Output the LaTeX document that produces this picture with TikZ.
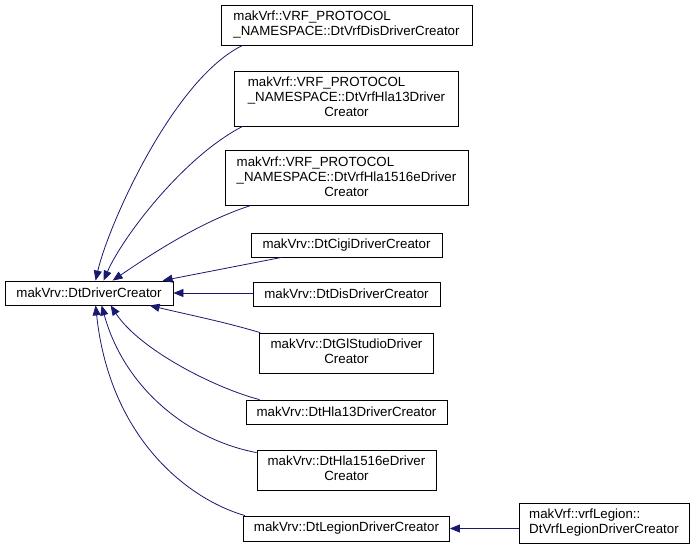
\documentclass[tikz,border=0pt]{standalone}
\usepackage{fontspec}
\setmainfont{Liberation Sans}
\usetikzlibrary{arrows.meta}
\definecolor{edgecol}{HTML}{191970}
\begin{document}
\begin{tikzpicture}[x=1pt,y=-1pt,
  box/.style={draw=black, line width=0.8pt, fill=white, inner sep=0pt,
    font=\fontsize{13.3}{15}\selectfont},
  edge/.style={draw=edgecol, line width=0.8pt,
    {Triangle[length=10pt,width=8pt,fill=edgecol]}-}]
\useasboundingbox (0,0) rectangle (696,555);
\fill[white] (0,0) rectangle (696,555);

\node[box, minimum width=168pt, minimum height=24pt] (main) at (89,293) {makVrv::DtDriverCreator};

\node[box, minimum width=251pt, minimum height=40pt] (vdis) at (346.5,25)
  {\begin{tabular}{@{}l@{}}makVrf::VRF\_PROTOCOL\\\_NAMESPACE::DtVrfDisDriverCreator\end{tabular}};
\node[box, minimum width=224pt, minimum height=55pt] (vhla) at (346.5,98.5)
  {\begin{tabular}{@{}l@{}}makVrf::VRF\_PROTOCOL\\\_NAMESPACE::DtVrfHla13Driver\\\multicolumn{1}{@{}c@{}}{Creator}\end{tabular}};
\node[box, minimum width=243pt, minimum height=55pt] (vhlae) at (346.5,178)
  {\begin{tabular}{@{}l@{}}makVrf::VRF\_PROTOCOL\\\_NAMESPACE::DtVrfHla1516eDriver\\\multicolumn{1}{@{}c@{}}{Creator}\end{tabular}};
\node[box, minimum width=191pt, minimum height=24pt] (cigi) at (346.5,245) {makVrv::DtCigiDriverCreator};
\node[box, minimum width=187pt, minimum height=24pt] (dis) at (346.5,294) {makVrv::DtDisDriverCreator};
\node[box, minimum width=174pt, minimum height=40pt] (gls) at (346.5,353)
  {\begin{tabular}{@{}c@{}}makVrv::DtGlStudioDriver\\Creator\end{tabular}};
\node[box, minimum width=201pt, minimum height=24pt] (hla) at (346.5,412) {makVrv::DtHla13DriverCreator};
\node[box, minimum width=179pt, minimum height=40pt] (hlae) at (346.5,470)
  {\begin{tabular}{@{}c@{}}makVrv::DtHla1516eDriver\\Creator\end{tabular}};
\node[box, minimum width=206pt, minimum height=25pt] (leg) at (346.5,528.5) {makVrv::DtLegionDriverCreator};
\node[box, minimum width=170pt, minimum height=40pt] (lvrf) at (604,523)
  {\begin{tabular}{@{}l@{}}makVrf::vrfLegion::\\DtVrfLegionDriverCreator\end{tabular}};

\draw[edge] ([xshift=91pt]main.north west) .. controls (108,226) and (173,79) .. ([xshift=22pt]vdis.south west);
\draw[edge] ([xshift=99pt]main.north west) .. controls (122,238) and (183,157) .. ([xshift=8.5pt]vhla.south west);
\draw[edge] ([xshift=108pt]main.north west) .. controls (150,255) and (200,222) .. ([xshift=25pt]vhlae.south west);
\draw[edge] ([xshift=158pt]main.north west) -- ([xshift=31pt]cigi.south west);
\draw[edge] (main.east) -- (main.east -| dis.west);
\draw[edge] ([xshift=145pt]main.south west) .. controls (185,314) and (225,322) .. ([xshift=1pt]gls.north west);
\draw[edge] ([xshift=106pt]main.south west) .. controls (140,350) and (215,388) .. ([xshift=14pt]hla.north west);
\draw[edge] ([xshift=97pt]main.south west) .. controls (125,390) and (190,440) .. ([yshift=-3pt]hlae.north west);
\draw[edge] ([xshift=91pt]main.south west) .. controls (110,440) and (190,500) .. ([xshift=2pt]leg.north west);
\draw[edge] (leg.east) -- (leg.east -| lvrf.west);
\end{tikzpicture}
\end{document}
